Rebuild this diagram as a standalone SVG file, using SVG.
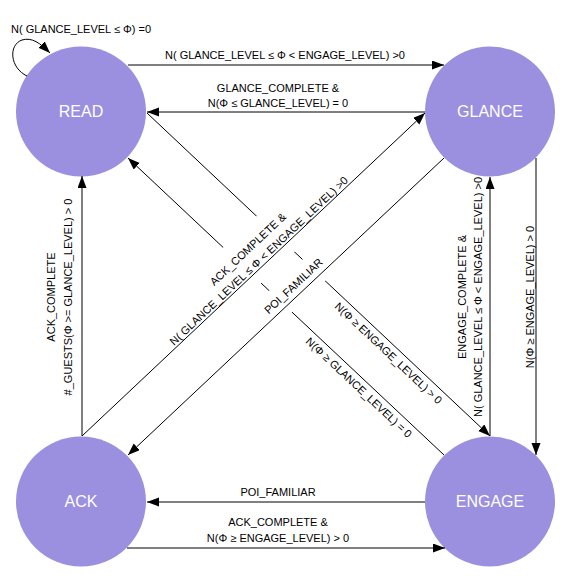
<svg xmlns="http://www.w3.org/2000/svg" width="579" height="583" viewBox="0 0 579 583">
<defs>
<marker id="arr" markerUnits="userSpaceOnUse" markerWidth="12" markerHeight="10" refX="12" refY="4.5" orient="auto">
<path d="M0,0 L12,4.5 L0,9 z" fill="#000"/>
</marker>
<style>
.node{fill:#9b8fdf;}
.nt{font-family:"Liberation Sans",Arial,sans-serif;font-size:16px;fill:#fff;text-anchor:middle;}
.c{stroke:#000;stroke-width:1;fill:none;marker-end:url(#arr);}
.lbl{font-family:"Liberation Sans",Arial,sans-serif;font-size:11px;fill:#000;text-anchor:middle;}
.mask{fill:#fff;stroke:none;}
</style>
</defs>
<rect width="579" height="583" fill="#fff"/>
<g id="READ"><circle class="node" cx="81" cy="111.5" r="65"/><text class="nt" x="81" y="117">READ</text></g>
<g id="GLANCE"><circle class="node" cx="490" cy="111.5" r="65"/><text class="nt" x="490" y="117">GLANCE</text></g>
<g id="ACK"><circle class="node" cx="81" cy="501.5" r="65"/><text class="nt" x="81" y="507">ACK</text></g>
<g id="ENGAGE"><circle class="node" cx="490" cy="501.5" r="65"/><text class="nt" x="490" y="507">ENGAGE</text></g>
<g id="connectors">
<line class="c" x1="147" y1="113" x2="490" y2="436"/>
<line class="c" x1="444" y1="455" x2="128" y2="158"/>
<rect class="mask" x="-120" y="-40" width="240" height="52" transform="translate(262.8,265.1) rotate(-43.3)"/>
<rect class="mask" x="-40" y="-23" width="80" height="31" transform="translate(300.2,293.2) rotate(-43.2)"/>
<path class="c" d="M27,76 C10,68 8,45 22,40 C32,37 40,43 50,53"/>
<line class="c" x1="128" y1="65" x2="444" y2="65"/>
<line class="c" x1="425" y1="112" x2="147" y2="112"/>
<line class="c" x1="425" y1="502" x2="147" y2="502"/>
<line class="c" x1="127" y1="548" x2="445" y2="548"/>
<line class="c" x1="82" y1="436" x2="82" y2="176"/>
<line class="c" x1="490" y1="436" x2="490" y2="177"/>
<line class="c" x1="536" y1="158" x2="536" y2="455"/>
<line class="c" x1="82" y1="436" x2="425" y2="113"/>
<line class="c" x1="444" y1="158" x2="128" y2="455"/>
</g>
<g id="labels">
<text class="lbl" x="81" y="33">N( GLANCE_LEVEL ≤ Φ) =0</text>
<text class="lbl" x="285" y="59">N( GLANCE_LEVEL ≤ Φ &lt; ENGAGE_LEVEL) &gt;0</text>
<text class="lbl" x="278" y="92">GLANCE_COMPLETE &amp;</text>
<text class="lbl" x="278" y="107">N(Φ ≤ GLANCE_LEVEL) = 0</text>
<text class="lbl" x="278" y="496">POI_FAMILIAR</text>
<text class="lbl" x="278" y="526">ACK_COMPLETE &amp;</text>
<text class="lbl" x="278" y="542">N(Φ ≥ ENGAGE_LEVEL) &gt; 0</text>
<text class="lbl" transform="translate(55,297) rotate(-90)">ACK_COMPLETE</text>
<text class="lbl" transform="translate(72,297) rotate(-90)">#_GUESTS(Φ &gt;= GLANCE_LEVEL) &gt; 0</text>
<text class="lbl" transform="translate(466,297) rotate(-90)">ENGAGE_COMPLETE &amp;</text>
<text class="lbl" transform="translate(482,297) rotate(-90)">N( GLANCE_LEVEL ≤ Φ &lt; ENGAGE_LEVEL) &gt;0</text>
<text class="lbl" transform="translate(534,297) rotate(-90)">N(Φ ≥ ENGAGE_LEVEL) &gt; 0</text>
<g transform="translate(262.8,265.1) rotate(-43.3)">
<text class="lbl" x="0" y="-18">ACK_COMPLETE &amp;</text>
<text class="lbl" x="0" y="-2">N( GLANCE_LEVEL ≤ Φ &lt; ENGAGE_LEVEL) &gt;0</text>
</g>
<text class="lbl" transform="translate(300.2,293.2) rotate(-43.2)" x="0" y="-6">POI_FAMILIAR</text>
<text class="lbl" transform="translate(394.8,346.5) rotate(43.3)" x="0" y="13">N(Φ ≥ ENGAGE_LEVEL) &gt; 0</text>
<text class="lbl" transform="translate(365.2,380.9) rotate(43.2)" x="0" y="13">N(Φ ≥ GLANCE_LEVEL) = 0</text>
</g>
</svg>
